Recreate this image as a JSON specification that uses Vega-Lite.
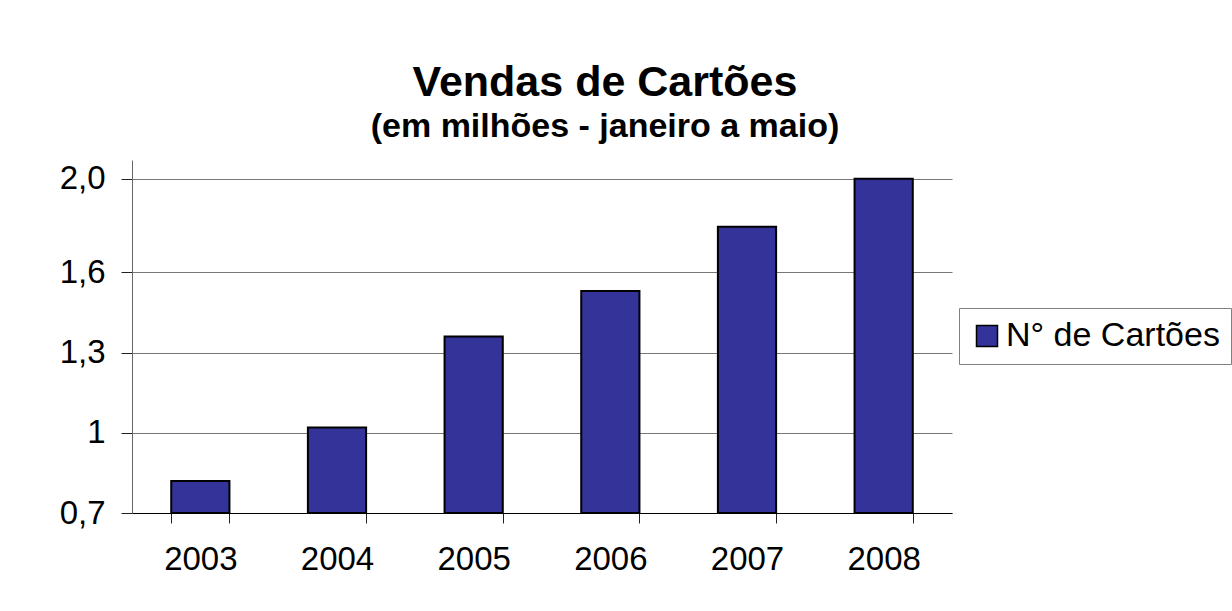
{
  "$schema": "https://vega.github.io/schema/vega-lite/v6.json",
  "width": 820,
  "height": 353,
  "autosize": "none",
  "padding": {"left": 132, "top": 160, "right": 280, "bottom": 98},
  "background": "white",
  "title": {
    "text": "Vendas de Cartões",
    "subtitle": "(em milhões - janeiro a maio)",
    "font": "Liberation Sans",
    "subtitleFont": "Liberation Sans",
    "fontSize": 43,
    "subtitleFontSize": 34,
    "fontWeight": "bold",
    "subtitleFontWeight": "bold",
    "color": "black",
    "subtitleColor": "black",
    "anchor": "middle",
    "dx": 63,
    "offset": 16,
    "subtitlePadding": 5
  },
  "data": {
    "values": [
      {"ano": "2003", "valor": 0.82, "serie": "N° de Cartões"},
      {"ano": "2004", "valor": 1.02, "serie": "N° de Cartões"},
      {"ano": "2005", "valor": 1.36, "serie": "N° de Cartões"},
      {"ano": "2006", "valor": 1.53, "serie": "N° de Cartões"},
      {"ano": "2007", "valor": 1.77, "serie": "N° de Cartões"},
      {"ano": "2008", "valor": 1.95, "serie": "N° de Cartões"}
    ]
  },
  "mark": {"type": "bar", "stroke": "black", "strokeWidth": 2},
  "encoding": {
    "x": {
      "field": "ano",
      "type": "nominal",
      "scale": {"paddingInner": 0.574, "paddingOuter": 0.287},
      "axis": {
        "title": null,
        "labelAngle": 0,
        "labelFont": "Liberation Sans",
        "labelFontSize": 33,
        "labelColor": "black",
        "labelPadding": 20,
        "tickBand": "extent",
        "tickSize": 10,
        "tickColor": "#222",
        "domainColor": "black",
        "domainWidth": 1,
        "grid": false
      }
    },
    "y": {
      "field": "valor",
      "type": "quantitative",
      "scale": {"domain": [0.7, 2.02], "nice": false, "zero": false},
      "axis": {
        "title": null,
        "values": [0.7, 1, 1.3, 1.6, 1.95],
        "labelExpr": "datum.value == 0.7 ? '0,7' : datum.value == 1 ? '1' : datum.value == 1.3 ? '1,3' : datum.value == 1.6 ? '1,6' : '2,0'",
        "labelFont": "Liberation Sans",
        "labelFontSize": 33,
        "labelColor": "black",
        "labelPadding": 16,
        "tickSize": 11,
        "tickColor": "#222",
        "domainColor": "#666",
        "grid": true,
        "gridColor": "#777",
        "gridOpacity": 1
      }
    },
    "y2": {"datum": 0.7},
    "color": {
      "field": "serie",
      "type": "nominal",
      "scale": {"range": ["#333399"]},
      "legend": {
        "title": null,
        "orient": "none",
        "legendX": 827,
        "legendY": 148,
        "labelFont": "Liberation Sans",
        "labelFontSize": 34,
        "labelColor": "black",
        "labelOffset": 2,
        "labelLimit": 400,
        "symbolType": "square",
        "symbolSize": 441,
        "symbolStrokeColor": "black",
        "symbolStrokeWidth": 1.5,
        "symbolOpacity": 1,
        "strokeColor": "#808080",
        "padding": 11
      }
    }
  },
  "config": {
    "view": {"stroke": null}
  }
}
